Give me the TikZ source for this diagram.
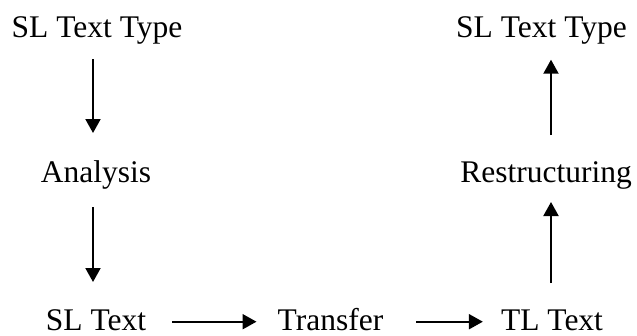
\documentclass[tikz,border=0pt]{standalone}
\usepackage{fontspec}
\setmainfont{Liberation Serif}
\usetikzlibrary{arrows.meta,calc}
\begin{document}
\begin{tikzpicture}[x=1pt,y=-1pt,
  lbl/.style={inner sep=0pt,anchor=base,font=\fontsize{31.5}{36}\selectfont},
  arr/.style={line width=2pt,-{Triangle[length=14pt,width=15pt]}}]
\useasboundingbox (0,0) rectangle (637,335);
% stages of the text pipeline
\node[lbl] (slt)  at (97,37.7)   {SL Text Type};
\node[lbl] (ana)  at (96,182)    {Analysis};
\node[lbl] (sl)   at (96,330)    {SL Text};
\node[lbl] (tr)   at (330.5,330) {Transfer};
\node[lbl] (tl)   at (552,330)   {TL Text};
\node[lbl] (res)  at (546,182)   {Restructuring};
\node[lbl] (tlt)  at (541.5,37.7){SL Text Type};
% column positions of the vertical arrows
\coordinate (lx) at (93,0);
\coordinate (rx) at (551,0);
% left column: downward
\draw[arr] ($(slt.base -| lx)+(0,21.3)$) -- ($(ana.base -| lx)+(0,-49)$);
\draw[arr] ($(ana.base -| lx)+(0,25)$) -- ($(sl.base -| lx)+(0,-48)$);
% bottom row: rightward
\draw[arr] ($(sl.base east)+(26,-8.3)$) -- ($(tr.base west)+(-21,-8.3)$);
\draw[arr] ($(tr.base east)+(33,-8.3)$) -- ($(tl.base west)+(-18,-8.3)$);
% right column: upward
\draw[arr] ($(tl.base -| rx)+(0,-47)$) -- ($(res.base -| rx)+(0,20)$);
\draw[arr] ($(res.base -| rx)+(0,-47)$) -- ($(tlt.base -| rx)+(0,22)$);
\end{tikzpicture}
\end{document}
